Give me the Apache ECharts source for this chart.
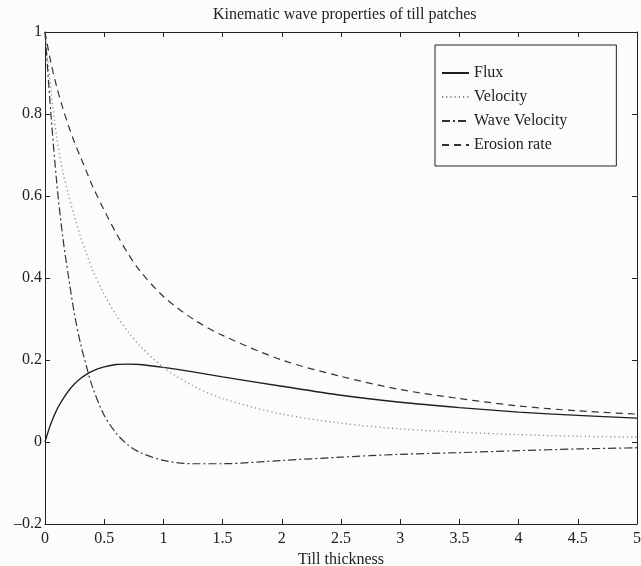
<!DOCTYPE html>
<html>
<head>
<meta charset="utf-8">
<script src="https://cdn.jsdelivr.net/npm/echarts@6/dist/echarts.min.js"></script>
<style>
  html, body { margin: 0; padding: 0; background: #fbfcfb; }
  #chart { width: 641px; height: 566px; }
</style>
</head>
<body>
<div id="chart"></div>
<script>
// till thickness samples
const thickness = [0, 0.05, 0.1, 0.15, 0.2, 0.25, 0.3, 0.35, 0.4, 0.5, 0.6, 0.7, 0.8, 1.0, 1.25, 1.5, 2, 2.5, 3, 3.5, 4, 4.5, 5]

const flux = [0, 0.045, 0.079, 0.104, 0.125, 0.142, 0.155, 0.165, 0.173, 0.183, 0.189, 0.19, 0.189, 0.182, 0.171, 0.159, 0.136, 0.114, 0.097, 0.084, 0.073, 0.065, 0.058]
const velocity = [1.0, 0.86, 0.74, 0.66, 0.6, 0.55, 0.5, 0.46, 0.42, 0.36, 0.31, 0.27, 0.235, 0.182, 0.137, 0.106, 0.068, 0.046, 0.032, 0.024, 0.018, 0.014, 0.012]
const waveVelocity = [1.0, 0.8, 0.63, 0.5, 0.4, 0.31, 0.24, 0.185, 0.135, 0.065, 0.022, -0.007, -0.025, -0.045, -0.053, -0.053, -0.045, -0.037, -0.03, -0.026, -0.021, -0.017, -0.014]
const erosionRate = [1.0, 0.925, 0.865, 0.815, 0.77, 0.73, 0.695, 0.66, 0.625, 0.565, 0.51, 0.46, 0.418, 0.355, 0.3, 0.26, 0.2, 0.16, 0.128, 0.106, 0.088, 0.076, 0.068]

const font = 'Liberation Serif, Times New Roman, serif'
const ink = '#222'

const pairs = ys => thickness.map((x, i) => [x, ys[i]])

const mkSeries = (name, ys, color, type, width) => ({
    name: name,
    type: 'line',
    data: pairs(ys),
    symbol: 'none',
    smooth: 0.3,
    lineStyle: { color: color, width: width, type: type },
    itemStyle: { color: color }
})

const baseX = {
    type: 'value',
    min: 0,
    max: 5,
    interval: 0.5,
    splitLine: { show: false },
    axisLine: { show: true, onZero: false, lineStyle: { color: ink, width: 1 } },
    axisTick: { show: true, inside: true, length: 5, lineStyle: { color: ink } }
}
const baseY = {
    type: 'value',
    min: -0.2,
    max: 1,
    interval: 0.2,
    splitLine: { show: false },
    axisLine: { show: true, onZero: false, lineStyle: { color: ink, width: 1 } },
    axisTick: { show: true, inside: true, length: 5, lineStyle: { color: ink } }
}

const chart = echarts.init(document.getElementById('chart'))

chart.setOption({
    backgroundColor: '#fbfcfb',
    animation: false,
    title: {
        text: 'Kinematic wave properties of till patches',
        left: 208,
        top: 2,
        textStyle: { fontFamily: font, fontSize: 16, fontWeight: 'normal', color: ink }
    },
    grid: { left: 45, right: 4, top: 32, bottom: 42, containLabel: false, outerBoundsMode: 'none' },
    legend: {
        orient: 'vertical',
        left: 435,
        top: 45,
        padding: [20, 49, 13, 6],
        itemWidth: 27,
        itemHeight: 14,
        itemGap: 8,
        backgroundColor: '#fbfcfb',
        borderColor: ink,
        borderWidth: 1,
        borderRadius: 0,
        itemStyle: { opacity: 0 },
        lineStyle: { opacity: 1 },
        textStyle: { fontFamily: font, fontSize: 16, color: ink },
        data: ['Flux', 'Velocity', 'Wave Velocity', 'Erosion rate']
    },
    xAxis: [
        Object.assign({}, baseX, {
            position: 'bottom',
            name: 'Till thickness',
            nameLocation: 'middle',
            nameGap: 22,
            nameTextStyle: { fontFamily: font, fontSize: 16, color: ink },
            axisLabel: {
                fontFamily: font, fontSize: 16, color: ink, margin: 7,
                formatter: v => String(+v.toFixed(1))
            }
        }),
        Object.assign({}, baseX, { position: 'top', axisLabel: { show: false } })
    ],
    yAxis: [
        Object.assign({}, baseY, {
            position: 'left',
            axisLabel: {
                fontFamily: font, fontSize: 16, color: ink, margin: 3,
                formatter: v => {
                    const s = String(+v.toFixed(1))
                    return s.replace('-', '\u2013')
                }
            }
        }),
        Object.assign({}, baseY, { position: 'right', axisLabel: { show: false } })
    ],
    series: [
        mkSeries('Flux', flux, '#1e1e1e', 'solid', 1.3),
        mkSeries('Velocity', velocity, '#8a8a8a', [1.2, 3], 1.3),
        mkSeries('Wave Velocity', waveVelocity, '#333', [8, 3, 2, 3], 1.2),
        mkSeries('Erosion rate', erosionRate, '#333', [7, 5], 1.2)
    ]
})
</script>
</body>
</html>
